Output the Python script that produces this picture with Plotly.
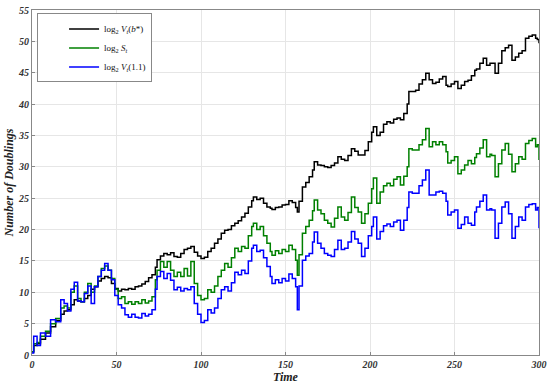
import plotly.graph_objects as go

time = [0,1,3,5,8,11,14,17,19,21,23,25,27,29,31,33,35,37,39,41,43,45,47,49,51,53,55,57,59,61,63,65,67,69,71,73,74,76,78,80,82,84,86,88,90,92,94,96,98,100,102,104,106,108,110,112,114,116,118,120,122,124,126,128,130,131,133,135,137,139,141,142,144,146,148,150,152,154,156,157,158,160,162,164,166,167,169,171,173,175,177,179,181,183,185,187,189,191,193,195,197,199,201,202,204,206,208,210,212,214,216,218,220,222,223,225,227,229,231,233,235,237,239,241,243,245,246,248,250,252,254,256,258,260,262,263,265,267,269,271,272,274,276,278,280,282,284,286,288,290,292,294,296,298,299,300]

log_v_bstar = [0.5,1.5,1.8,2.5,3.5,4.5,5.5,6.5,7.0,7.2,8.0,8.8,8.6,8.5,9.0,9.5,10.5,10.9,11.8,12.2,12.5,12.3,11.4,10.6,10.2,10.5,10.4,10.6,10.5,10.9,11.0,11.3,11.7,12.3,12.8,14.0,15.2,15.8,16.2,16.0,16.3,15.7,15.6,16.2,16.8,17.0,17.3,16.4,15.8,15.4,15.6,16.5,17.0,17.8,18.5,19.4,19.9,20.0,20.6,21.0,21.4,22.0,22.6,23.6,24.6,25.2,24.8,25.0,24.2,23.6,23.4,23.2,23.5,23.6,23.9,24.0,24.6,24.3,23.5,22.8,24.5,26.8,27.5,28.4,29.5,30.8,30.3,30.2,30.0,29.9,30.2,30.6,31.6,31.2,31.0,31.8,32.9,32.5,31.9,31.9,32.6,34.0,35.5,36.4,35.0,35.5,36.8,37.2,37.0,37.6,37.8,37.5,38.5,40.0,42.0,42.0,42.2,43.2,43.9,44.9,43.9,43.3,43.5,44.0,44.4,43.0,42.8,43.2,43.6,42.5,43.0,43.6,43.8,44.5,45.4,45.6,46.5,47.3,46.2,46.5,46.5,44.9,46.5,48.5,49.0,49.4,47.0,47.5,48.1,48.5,50.5,50.8,51.0,50.5,50.3,49.7]

log_s = [0.5,1.8,2.0,3.0,3.8,5.0,5.8,7.5,7.8,7.5,10.0,11.0,9.0,8.5,10.0,11.4,10.0,11.0,12.5,13.8,14.2,13.5,12.2,10.5,9.0,9.3,8.2,8.5,8.1,8.5,8.2,8.8,8.3,8.6,9.3,12.0,13.5,14.9,14.0,14.9,13.5,12.5,13.2,12.5,13.8,12.6,14.9,11.4,9.5,8.8,9.0,10.4,10.0,11.0,12.5,13.5,14.6,14.0,15.5,17.0,16.5,17.3,17.0,19.0,20.5,21.0,20.0,20.5,19.0,17.8,16.5,15.9,16.6,16.2,16.8,16.5,17.5,16.8,15.1,12.7,16.0,19.4,20.5,21.5,23.0,24.7,23.1,22.5,21.5,21.0,20.4,21.8,23.6,22.0,21.5,22.7,25.2,23.5,22.8,21.0,22.5,24.2,26.5,28.2,24.2,26.0,27.0,27.4,27.0,28.0,28.4,27.1,28.5,30.0,32.9,32.7,32.7,33.5,34.3,36.1,33.2,34.0,33.5,34.0,33.5,32.4,30.6,31.0,31.6,28.9,29.5,30.3,31.0,30.5,31.5,32.1,33.0,34.3,31.6,32.0,31.8,28.4,30.5,32.7,33.7,32.0,29.2,30.5,31.6,31.2,33.7,34.2,34.5,33.2,33.5,31.1]

log_v_11 = [0.3,3.0,1.5,3.5,3.0,5.6,5.3,8.8,8.2,7.0,10.5,11.6,8.6,8.5,9.8,11.0,8.2,10.9,12.5,13.5,14.6,13.5,12.0,9.5,8.0,7.5,6.4,6.0,6.5,6.0,5.9,6.6,6.2,6.5,7.2,10.5,12.5,13.3,12.2,13.0,11.9,10.4,10.8,10.2,10.6,10.4,10.9,8.2,6.5,5.2,5.5,7.2,6.7,7.5,9.0,10.4,10.9,10.2,11.5,13.2,12.8,13.5,13.0,15.0,17.0,17.5,16.5,16.7,15.5,14.1,12.5,11.4,12.0,11.5,12.2,11.8,12.9,12.2,10.9,7.2,11.0,15.1,15.8,16.2,18.0,19.6,17.8,17.0,16.2,15.9,15.7,16.8,18.3,16.8,17.0,18.0,19.7,18.5,17.8,15.7,17.0,19.0,20.5,22.0,18.5,19.7,20.6,20.9,20.5,21.2,21.5,19.9,21.5,23.5,26.0,25.8,25.8,27.0,27.9,29.5,25.5,25.5,26.0,26.1,25.8,24.5,22.3,22.8,23.1,20.2,20.8,22.0,21.0,20.7,22.8,23.6,24.5,25.5,23.1,23.3,23.1,18.6,21.0,23.6,24.4,22.5,18.6,20.5,22.0,21.5,23.6,24.0,24.1,23.1,23.5,20.2]

series_names = [
    "log<sub>2</sub> <i>V<sub>t</sub></i>(<i>b</i>*)",
    "log<sub>2</sub> <i>S<sub>t</sub></i>",
    "log<sub>2</sub> <i>V<sub>t</sub></i>(1.1)",
]
series_values = [log_v_bstar, log_s, log_v_11]
series_colors = ["#000000", "#008000", "#0000FF"]

fig = go.Figure()
for name, vals, col in zip(series_names, series_values, series_colors):
    fig.add_trace(go.Scatter(x=time, y=vals, mode="lines", name=name,
                             line=dict(color=col, width=1.5, shape="hv")))

tickfont = dict(family="Liberation Serif", size=10, color="#333333", style="italic", weight="bold")
titlefont = dict(family="Liberation Serif", size=12, color="#222222", style="italic", weight="bold")

fig.update_layout(
    width=550, height=385,
    margin=dict(l=32, r=11, t=10, b=30),
    plot_bgcolor="white", paper_bgcolor="white",
    showlegend=True,
    legend=dict(x=0.01, y=0.99, xanchor="left", yanchor="top",
                bgcolor="white", bordercolor="#888888", borderwidth=1,
                font=dict(family="Liberation Serif", size=9, color="#111111"),
                indentation=26, tracegroupgap=0, itemwidth=30),
    xaxis=dict(range=[0, 300], tickvals=[0, 50, 100, 150, 200, 250, 300],
               showgrid=True, gridcolor="#e6e6e6", gridwidth=1,
               showline=True, linecolor="#888888", linewidth=1, mirror=True,
               ticks="inside", ticklen=3, tickcolor="#888888",
               tickfont=tickfont, zeroline=False, automargin=False,
               ticklabeloverflow="allow",
               title=dict(text="Time", font=titlefont, standoff=1)),
    yaxis=dict(range=[0, 55], tickvals=list(range(0, 56, 5)),
               showgrid=True, gridcolor="#e6e6e6", gridwidth=1,
               showline=True, linecolor="#888888", linewidth=1, mirror=True,
               ticks="inside", ticklen=3, tickcolor="#888888",
               tickfont=tickfont, zeroline=False, automargin=False,
               ticklabeloverflow="allow",
               title=dict(text="Number of Doublings", font=titlefont, standoff=1)),
)

# remove the page's default 8px body margin so the 550x385 figure fills the window
fig.write_html("out.html", config={"displayModeBar": False},
               post_script="document.body.style.margin='0';")
